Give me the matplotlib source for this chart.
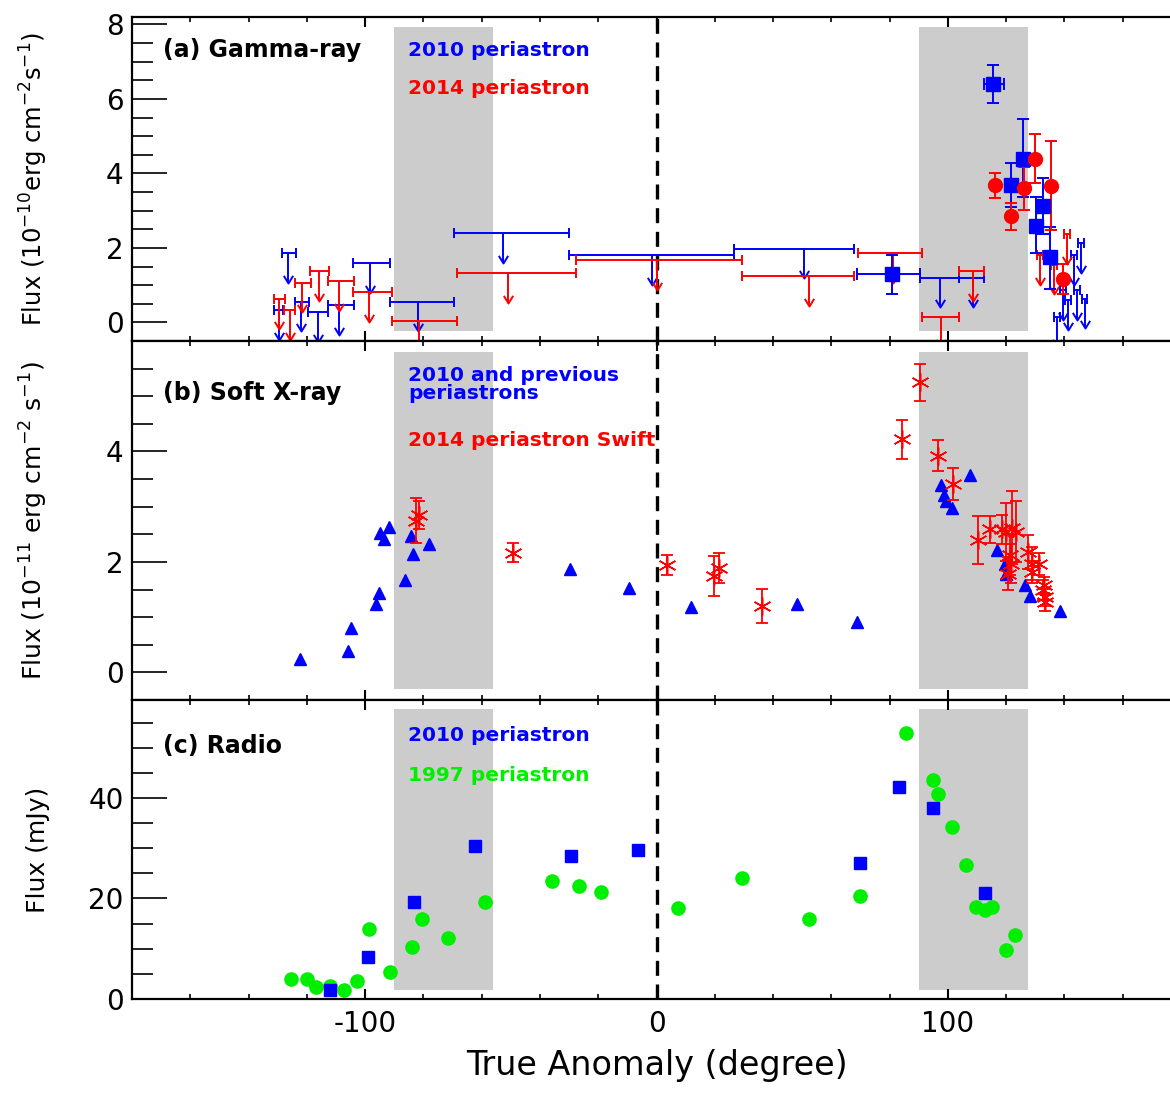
import matplotlib
matplotlib.use('Agg')
import matplotlib.pyplot as plt
from matplotlib.path import Path
from matplotlib.ticker import MultipleLocator
import numpy as np

# ---------------- (a) Gamma-ray ----------------
# upper limits, 2010 periastron (centre, bin start, bin end, value)
ul10_x = [-126.3, -129.7, -121.9, -116.2, -108.8, -98.4, -82.0, -52.8, -1.5, 50.5, 97.3, 108.5,
          145.8, 143.2, 144.3, 146.9, 141.2, 139.5, 137.4]
ul10_lo = [-128.5, -131.3, -123.9, -119.6, -112.8, -104.0, -91.4, -69.6, -30.0, 26.7, 90.4, 103.8,
           144.8, 142.2, 143.3, 145.9, 140.2, 138.5, 136.4]
ul10_hi = [-123.7, -128.1, -119.4, -112.8, -103.9, -91.3, -69.6, -30.0, 26.7, 67.9, 103.8, 112.4,
           146.8, 144.2, 145.3, 147.9, 142.2, 140.5, 138.4]
ul10_y = [1.85, 0.32, 0.56, 0.28, 0.47, 1.60, 0.56, 2.40, 1.80, 1.98, 1.20, 1.20,
          2.13, 1.80, 0.86, 0.64, 0.59, 0.86, 0.14]

# upper limits, 2014 periastron
ul14_x = [-129.7, -125.9, -121.6, -115.9, -109.0, -98.5, -81.4, -51.1, 0.2, 52.2, 81.3, 97.8, 108.5,
          140.9, 131.5, 136.5]
ul14_lo = [-131.4, -127.8, -123.9, -118.8, -112.8, -104.0, -90.9, -68.3, -27.7, 29.3, 69.0, 91.2, 103.8,
           139.9, 130.5, 135.5]
ul14_hi = [-127.6, -123.9, -118.7, -112.4, -103.9, -90.9, -68.3, -27.7, 29.3, 67.9, 91.2, 103.8, 112.4,
           141.9, 132.5, 137.5]
ul14_y = [0.62, 0.32, 1.07, 1.38, 1.10, 0.82, 0.05, 1.33, 1.68, 1.25, 1.85, 0.14, 1.38,
          2.38, 1.80, 1.55]

# detections
det10_x = [80.7, 115.5, 121.5, 125.8, 130.1, 132.6, 135.2]
det10_y = [1.31, 6.40, 3.70, 4.40, 2.60, 3.13, 1.76]
det10_ylo = [0.54, 0.50, 0.60, 1.03, 0.75, 0.75, 0.86]
det10_yhi = [0.49, 0.50, 0.57, 1.05, 0.77, 0.76, 0.80]
det10_xlo = [12.0, 3.2, 0, 0, 0, 0, 0]
det10_xhi = [9.7, 3.7, 0, 0, 0, 0, 0]

det14_x = [116.1, 121.6, 126.0, 129.9, 135.5, 139.5]
det14_y = [3.68, 2.85, 3.61, 4.40, 3.66, 1.16]
det14_ylo = [0.34, 0.38, 0.60, 0.66, 1.19, 0.40]
det14_yhi = [0.34, 0.35, 0.56, 0.65, 1.21, 0.40]

# ---------------- (b) Soft X-ray ----------------
xr10_x = [-122.2, -105.9, -105.0, -96.2, -95.1, -86.3, -83.7, -84.2, -78.0, -94.8, -93.4, -91.9,
          -29.7, -9.5, 12.0, 48.2, 68.7, 107.5, 97.5, 98.6, 99.3, 101.3,
          116.7, 119.5, 120.1, 126.4, 128.3, 138.4]
xr10_y = [0.25, 0.39, 0.81, 1.24, 1.44, 1.67, 2.14, 2.47, 2.32, 2.52, 2.42, 2.64,
          1.88, 1.53, 1.18, 1.24, 0.91, 3.58, 3.40, 3.21, 3.10, 2.98,
          2.22, 1.97, 1.79, 1.58, 1.38, 1.12]

xr14_x = [-82.5, -81.5, -49.4, 3.7, 19.9, 21.3, 36.2, 84.1, 90.4, 96.7, 101.8,
          110.4, 114.6, 118.6, 119.8, 122.0, 123.5, 121.2, 121.8, 120.7,
          127.5, 128.7, 131.3, 128.7, 132.6, 133.2, 133.2, 132.9]
xr14_y = [2.75, 2.85, 2.17, 1.94, 1.74, 1.89, 1.20, 4.22, 5.25, 3.92, 3.41,
          2.40, 2.59, 2.59, 2.54, 2.62, 2.55, 2.12, 1.97, 1.79,
          2.18, 1.97, 1.96, 1.82, 1.49, 1.36, 1.27, 1.58]
xr14_err = [0.40, 0.25, 0.18, 0.18, 0.36, 0.27, 0.31, 0.35, 0.34, 0.28, 0.29,
            0.44, 0.25, 0.26, 0.53, 0.66, 0.55, 0.36, 0.35, 0.30,
            0.30, 0.30, 0.20, 0.20, 0.18, 0.15, 0.15, 0.15]

# ---------------- (c) Radio ----------------
rad10_x = [-112.0, -99.1, -83.3, -62.3, -29.5, -6.4, 69.9, 83.2, 95.0, 112.7]
rad10_y = [1.7, 8.4, 19.3, 30.5, 28.4, 29.6, 27.0, 42.1, 38.0, 21.0]

rad97_x = [-125.3, -120.0, -116.8, -112.2, -107.1, -102.7, -98.5, -91.4, -84.0, -80.6, -71.5, -58.8,
           -36.0, -26.6, -19.2, 7.3, 29.5, 52.3, 69.9, 85.5, 94.8, 96.7, 101.5, 106.2,
           109.6, 112.7, 115.0, 123.2, 119.9]
rad97_y = [3.9, 4.0, 2.3, 2.6, 1.7, 3.6, 14.0, 5.4, 10.4, 15.9, 12.2, 19.3,
           23.4, 22.5, 21.3, 18.2, 24.0, 16.0, 20.5, 52.9, 43.6, 40.8, 34.3, 26.6,
           18.4, 17.7, 18.4, 12.7, 9.7]

# orbital phases shaded in grey
shade_spans = [(-90, -56), (90, 127.5)]

BLUE = '#0000ff'
RED = '#ff0000'
GREEN = '#00ee00'
ARROW_LEN = 0.8

plt.rcParams['axes.unicode_minus'] = False
plt.rcParams['font.family'] = 'DejaVu Sans'

# open "v" arrowhead, tip at the origin
arrow_head = Path([(-0.55, 0.9), (0, 0), (0.55, 0.9)], [Path.MOVETO, Path.LINETO, Path.LINETO])


def style_axis(ax, ylim, ymajor, yminor):
    ax.set_xlim(-180, 180)
    ax.set_ylim(*ylim)
    ax.xaxis.set_major_locator(MultipleLocator(100))
    ax.xaxis.set_minor_locator(MultipleLocator(20))
    ax.set_yticks(ymajor)
    ax.yaxis.set_minor_locator(MultipleLocator(yminor))
    ax.tick_params(axis='y', which='major', direction='in', length=25, width=1.2, labelsize=20, pad=6)
    ax.tick_params(axis='y', which='minor', direction='in', length=15, width=1.2)
    ax.tick_params(axis='x', which='major', direction='in', length=7, width=1.5, top=True,
                   labelsize=20, pad=8)
    ax.tick_params(axis='x', which='minor', direction='in', length=3.5, width=1.2, top=True)
    for sp in ax.spines.values():
        sp.set_linewidth(1.6)
    for lo, hi in shade_spans:
        ax.axvspan(lo, hi, ymin=0.03, ymax=0.97, color='#cccccc', zorder=0, lw=0)
    ax.axvline(0, color='black', lw=2.4, ls=(0, (4.5, 2.6)), zorder=1)


def upper_limits(ax, x, lo, hi, y, color):
    x = np.array(x)
    y = np.array(y)
    xerr = [x - np.array(lo), np.array(hi) - x]
    ax.errorbar(x, y, xerr=xerr, fmt='none', ecolor=color, elinewidth=1.4, capsize=3.5, capthick=1.4)
    ax.vlines(x, y - ARROW_LEN, y, colors=color, lw=1.4)
    ax.plot(x, y - ARROW_LEN, ls='none', marker=arrow_head, ms=11, mfc='none', mec=color, mew=1.4)


fig = plt.figure(figsize=(11.7, 10.97), dpi=100)
left, width = 132 / 1170, 1049 / 1170
ax_a = fig.add_axes([left, 1 - 341 / 1097, width, 324 / 1097])
ax_b = fig.add_axes([left, 1 - 700 / 1097, width, 359 / 1097])
ax_c = fig.add_axes([left, 1 - 999 / 1097, width, 299 / 1097])

# (a)
style_axis(ax_a, (-0.5, 8.2), [0, 2, 4, 6, 8], 0.5)
upper_limits(ax_a, ul10_x, ul10_lo, ul10_hi, ul10_y, BLUE)
upper_limits(ax_a, ul14_x, ul14_lo, ul14_hi, ul14_y, RED)
ax_a.errorbar(det10_x, det10_y, yerr=[det10_ylo, det10_yhi], xerr=[det10_xlo, det10_xhi],
              fmt='s', color=BLUE, ms=10, elinewidth=1.4, capsize=4, capthick=1.4)
ax_a.errorbar(det14_x, det14_y, yerr=[det14_ylo, det14_yhi], fmt='o', color=RED, ms=10,
              elinewidth=1.4, capsize=4, capthick=1.4)
ax_a.tick_params(axis='x', labelbottom=False)
ax_a.set_ylabel('Flux (10$^{-10}$erg cm$^{-2}$s$^{-1}$)', fontsize=17.5)
ax_a.text(0.03, 0.898, '(a) Gamma-ray', transform=ax_a.transAxes, fontsize=17,
          fontweight='bold', va='center')
ax_a.text(0.263, 0.898, '2010 periastron', transform=ax_a.transAxes, fontsize=14.5,
          fontweight='bold', va='center', color=BLUE)
ax_a.text(0.263, 0.778, '2014 periastron', transform=ax_a.transAxes, fontsize=14.5,
          fontweight='bold', va='center', color=RED)

# (b)
style_axis(ax_b, (-0.5, 6.0), [0, 2, 4], 0.5)
ax_b.plot(xr10_x, xr10_y, ls='none', marker='^', color=BLUE, ms=9)
ax_b.errorbar(xr14_x, xr14_y, yerr=xr14_err, fmt='none', ecolor=RED, elinewidth=1.3,
              capsize=4, capthick=1.3)
ax_b.plot(xr14_x, xr14_y, ls='none', marker=(6, 2, 0), color=RED, ms=13, mew=1.1)
ax_b.tick_params(axis='x', labelbottom=False)
ax_b.set_ylabel('Flux (10$^{-11}$ erg cm$^{-2}$ s$^{-1}$)', fontsize=18)
ax_b.text(0.03, 0.855, '(b) Soft X-ray', transform=ax_b.transAxes, fontsize=17,
          fontweight='bold', va='center')
ax_b.text(0.263, 0.879, '2010 and previous\nperiastrons', transform=ax_b.transAxes,
          fontsize=14.5, fontweight='bold', va='center', color=BLUE, linespacing=0.95)
ax_b.text(0.263, 0.724, '2014 periastron Swift', transform=ax_b.transAxes, fontsize=14.5,
          fontweight='bold', va='center', color=RED)

# (c)
style_axis(ax_c, (0, 59.5), [0, 20, 40], 5)
ax_c.plot(rad97_x, rad97_y, ls='none', marker='o', color=GREEN, ms=9.5)
ax_c.plot(rad10_x, rad10_y, ls='none', marker='s', color=BLUE, ms=9)
ax_c.set_ylabel('Flux (mJy)', fontsize=18)
ax_c.set_xlabel('True Anomaly (degree)', fontsize=24, labelpad=8)
ax_c.text(0.03, 0.846, '(c) Radio', transform=ax_c.transAxes, fontsize=17,
          fontweight='bold', va='center')
ax_c.text(0.263, 0.880, '2010 periastron', transform=ax_c.transAxes, fontsize=14.5,
          fontweight='bold', va='center', color=BLUE)
ax_c.text(0.263, 0.746, '1997 periastron', transform=ax_c.transAxes, fontsize=14.5,
          fontweight='bold', va='center', color=GREEN)

for ax in (ax_a, ax_b, ax_c):
    ax.yaxis.set_label_coords(-0.078, 0.5)

fig.savefig('out.png', dpi=100)
